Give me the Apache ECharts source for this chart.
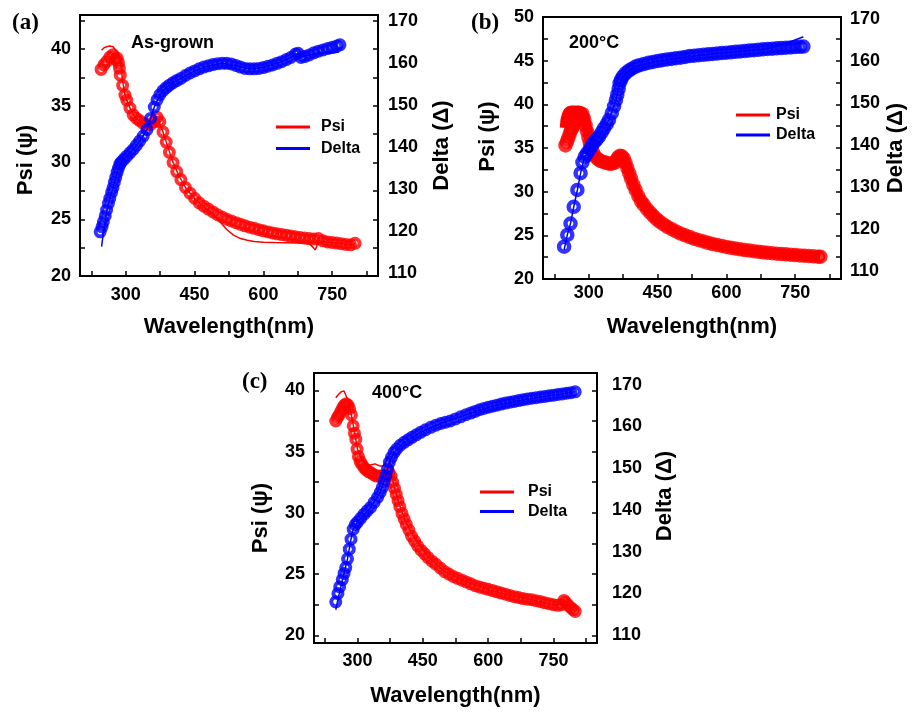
<!DOCTYPE html>
<html>
<head>
<meta charset="utf-8">
<script src="https://cdn.jsdelivr.net/npm/echarts@6/dist/echarts.min.js"></script>
<style>
  html, body { margin: 0; background: #fff; }
  #chart { width: 921px; height: 712px; }
</style>
</head>
<body>
<div id="chart"></div>
<script>
// ---- panel (a) as-grown: measured points [wavelength, value] and fits
const psiMeasA = [[246,38.2],[252,38.6],[258,38.9],[265,39.3],[272,39.5],[277,39.1],[281,39.2],[284,38.8],[286,38.3],[288,37.7],[293,36.8],[298,35.95],[302,35.5],[309,34.8],[316,34.2],[323,33.9],[330,33.7],[338,33.45],[346,33.3],[354,33.35],[362,33.6],[368,34.0],[374,33.6],[381,32.7],[388,31.8],[395,30.9],[403,30.0],[411,29.2],[420,28.5],[430,27.8],[440,27.3],[450,26.85],[460,26.45],[470,26.15],[480,25.9],[490,25.65],[500,25.4],[510,25.2],[520,25.0],[530,24.85],[540,24.7],[550,24.55],[560,24.42],[570,24.3],[580,24.2],[590,24.08],[600,23.98],[610,23.88],[620,23.8],[630,23.72],[640,23.65],[650,23.6],[660,23.52],[670,23.45],[680,23.4],[690,23.35],[700,23.3],[710,23.25],[720,23.3],[730,23.1],[740,23.0],[750,22.95],[760,22.9],[770,22.85],[780,22.78],[790,22.75],[800,22.88]];
const deltaMeasA = [[244,119.8],[248,121.0],[251,122.2],[255,123.6],[258,125.0],[262,126.6],[265,127.8],[269,129.2],[272,130.3],[275,131.6],[278,132.8],[281,134.0],[284,135.0],[287,135.9],[290,136.4],[296,137.1],[302,137.8],[309,138.6],[316,139.4],[323,140.4],[330,141.4],[338,142.6],[346,144.1],[354,146.8],[362,149.5],[368,151.2],[374,152.4],[381,153.4],[388,154.1],[395,154.7],[403,155.3],[411,155.8],[420,156.3],[430,157.0],[440,157.6],[450,158.1],[460,158.6],[470,159.0],[480,159.3],[490,159.6],[500,159.8],[510,159.9],[520,159.9],[530,159.75],[540,159.4],[550,159.0],[560,158.7],[570,158.6],[580,158.6],[590,158.7],[600,158.9],[610,159.2],[620,159.5],[630,159.9],[640,160.3],[650,160.8],[660,161.3],[670,162.1],[676,162.3],[682,161.3],[690,161.5],[700,161.9],[710,162.4],[720,162.8],[730,163.1],[740,163.4],[750,163.7],[760,164.0],[767,164.3]];
const psiFitA = [[247,39.9],[252,40.1],[258,40.2],[265,40.26],[272,40.2],[278,39.9],[284,39.6],[288,39.0],[293,37.2],[298,36.0],[302,35.5],[310,34.7],[320,34.0],[335,33.5],[350,33.3],[362,33.6],[370,33.8],[380,32.8],[390,31.6],[400,30.3],[415,28.9],[430,27.8],[450,26.8],[470,26.1],[490,25.5],[505,24.8],[520,24.1],[535,23.6],[550,23.3],[565,23.15],[580,23.05],[600,22.98],[625,22.95],[650,22.93],[675,22.9],[700,22.85],[709,22.5],[713,22.3],[718,22.8],[730,23.05],[750,22.95],[770,22.85],[790,22.75],[800,22.85]];
const deltaFitA = [[247,116.3],[252,120.3],[258,124.6],[265,127.8],[272,130.3],[278,132.8],[284,135.0],[290,136.4],[302,137.8],[316,139.4],[330,141.4],[346,144.1],[362,149.5],[374,152.4],[388,154.1],[403,155.3],[420,156.3],[450,158.1],[480,159.3],[510,159.9],[540,159.4],[570,158.6],[600,158.9],[630,159.9],[660,161.3],[676,162.2],[682,161.4],[700,161.9],[720,162.4],[745,162.3],[765,162.6]];

// ---- panel (b) 200°C
const psiMeasB = [[249,35.3],[252,35.7],[255,36.1],[258,36.6],[261,37.0],[264,37.3],[267,37.6],[270,37.9],[274,38.2],[278,38.6],[282,38.9],[286,38.9],[290,38.3],[293,37.6],[296,36.9],[299,36.2],[302,35.6],[305,35.0],[309,34.5],[314,34.0],[320,33.7],[326,33.5],[332,33.4],[338,33.3],[344,33.2],[350,33.2],[356,33.3],[360,33.6],[364,33.95],[368,34.1],[372,34.05],[376,33.8],[380,33.3],[384,32.7],[388,32.1],[392,31.5],[397,30.8],[402,30.2],[408,29.5],[414,28.9],[420,28.5],[427,28.0],[434,27.6],[441,27.2],[448,26.85],[455,26.55],[463,26.25],[472,25.95],[481,25.7],[490,25.45],[500,25.2],[510,25.0],[520,24.8],[530,24.6],[540,24.45],[550,24.3],[560,24.15],[570,24.0],[580,23.9],[590,23.78],[600,23.67],[610,23.57],[620,23.48],[630,23.4],[640,23.32],[650,23.25],[660,23.18],[670,23.12],[680,23.06],[690,23.0],[700,22.95],[710,22.9],[720,22.86],[730,22.82],[740,22.78],[750,22.74],[760,22.7],[770,22.67],[780,22.63],[790,22.6],[800,22.56],[805,22.55]];
const deltaMeasB = [[246,115.9],[253,118.7],[260,121.4],[267,125.4],[275,129.4],[282,133.4],[286,136.0],[291,137.3],[296,138.1],[302,139.1],[307,140.1],[312,140.8],[317,141.4],[322,142.1],[328,143.1],[333,144.1],[339,145.1],[344,146.1],[350,147.7],[355,149.3],[359,150.8],[362,152.1],[365,153.5],[367,154.8],[370,155.6],[374,156.4],[380,157.2],[387,157.8],[394,158.3],[402,158.8],[410,159.1],[420,159.4],[430,159.7],[440,159.9],[450,160.1],[460,160.3],[470,160.5],[480,160.6],[490,160.8],[500,160.9],[510,161.1],[520,161.3],[530,161.4],[540,161.5],[550,161.6],[560,161.7],[570,161.8],[580,161.9],[590,162.0],[600,162.1],[610,162.2],[620,162.3],[630,162.4],[640,162.5],[650,162.6],[660,162.7],[670,162.8],[680,162.9],[690,163.0],[700,163.05],[710,163.15],[720,163.2],[730,163.3],[740,163.35],[750,163.45],[760,163.5],[768,163.55]];
const psiFitB = [[247.5,37.3],[249,38.2],[252,38.8],[256,39.2],[262,39.3],[270,39.3],[278,39.3],[284,39.2],[290,38.6],[296,37.3],[302,35.9],[308,34.7],[314,34.0],[322,33.6],[335,33.35],[350,33.2],[358,33.4],[364,34.0],[370,34.1],[376,33.8],[382,33.0],[390,31.8],[400,30.4],[414,28.9],[430,27.8],[450,26.75],[475,25.9],[500,25.2],[530,24.6],[560,24.15],[600,23.67],[650,23.25],[700,22.95],[750,22.74],[805,22.55]];
const deltaFitB = [[246,115.1],[253,118.7],[260,121.4],[267,125.4],[275,129.4],[282,133.4],[290,137.0],[302,139.1],[322,142.1],[344,146.1],[359,150.8],[367,154.8],[380,157.2],[402,158.8],[440,159.9],[500,160.9],[560,161.7],[620,162.3],[680,162.9],[700,163.3],[720,164.0],[740,164.7],[768,165.9]];

// ---- panel (c) 400°C
const psiMeasC = [[250,37.5],[254,37.8],[258,38.0],[262,38.3],[266,38.6],[270,38.8],[274,38.9],[278,38.8],[282,38.5],[286,38.0],[290,37.1],[293,36.5],[296,36.0],[299,35.2],[302,34.6],[306,34.2],[310,33.95],[315,33.7],[320,33.5],[326,33.35],[332,33.25],[338,33.1],[344,33.0],[350,33.0],[356,33.0],[362,33.0],[367,33.1],[372,33.3],[377,33.0],[381,32.5],[385,32.0],[389,31.5],[393,31.0],[397,30.5],[402,29.95],[407,29.5],[412,29.05],[418,28.6],[424,28.1],[431,27.7],[438,27.3],[446,26.95],[454,26.65],[462,26.35],[471,26.05],[480,25.8],[490,25.5],[500,25.2],[510,25.0],[520,24.8],[530,24.65],[540,24.5],[550,24.35],[560,24.2],[570,24.05],[580,23.95],[590,23.85],[600,23.75],[610,23.65],[620,23.55],[630,23.45],[640,23.35],[650,23.25],[660,23.15],[670,23.08],[680,23.0],[690,22.95],[700,22.9],[710,22.82],[720,22.75],[730,22.65],[740,22.58],[750,22.5],[760,22.45],[768,22.5],[774,22.85],[778,22.7],[784,22.45],[790,22.25],[795,22.1],[800,21.95]];
const deltaMeasC = [[250,118.0],[255,120.0],[259,121.6],[265,123.3],[269,124.8],[273,126.2],[277,128.3],[281,130.6],[285,133.0],[290,135.4],[295,136.5],[300,137.1],[307,138.0],[315,139.0],[322,139.8],[330,140.6],[338,141.8],[346,143.0],[352,144.2],[357,145.4],[361,146.8],[365,148.2],[369,149.8],[373,151.4],[378,152.6],[384,153.8],[390,154.6],[398,155.5],[407,156.2],[416,156.8],[425,157.4],[435,158.0],[445,158.6],[456,159.2],[468,159.8],[480,160.3],[491,160.7],[502,161.0],[513,161.3],[525,161.8],[537,162.3],[549,162.8],[560,163.2],[570,163.6],[580,164.0],[590,164.3],[600,164.6],[610,164.85],[620,165.1],[630,165.35],[640,165.6],[650,165.8],[660,166.0],[670,166.2],[680,166.4],[690,166.6],[700,166.75],[710,166.9],[720,167.05],[730,167.2],[740,167.35],[750,167.5],[760,167.65],[770,167.8],[780,167.95],[790,168.1],[800,168.3]];
const psiFitC = [[250,39.4],[257,39.7],[263,39.9],[269,39.95],[273,39.8],[278,39.2],[283,38.5],[288,37.6],[293,36.6],[300,35.2],[310,34.3],[320,33.95],[330,33.9],[340,34.0],[350,33.85],[358,33.8],[365,34.2],[370,34.6],[374,34.4],[378,33.2],[385,32.0],[395,30.8],[410,29.3],[430,28.0],[460,26.5],[500,25.2],[550,24.35],[600,23.75],[650,23.25],[700,22.9],[750,22.5],[768,22.5],[775,22.85],[780,22.7],[790,22.25],[800,21.95]];
const deltaFitC = [[250,116.1],[255,118.6],[262,121.7],[269,124.8],[277,128.3],[285,133.0],[290,135.4],[300,137.1],[330,140.6],[352,144.2],[365,148.2],[373,151.4],[384,153.8],[407,156.2],[445,158.6],[491,160.7],[549,162.8],[600,164.6],[660,166.0],[720,167.05],[770,167.8],[800,168.3]];

// ---- axis ticks / labels
const xTicks = [225, 300, 375, 450, 525, 600, 675, 750, 825];
const xLabels = [300, 450, 600, 750];
const deltaLabels = [110, 120, 130, 140, 150, 160, 170];
const psiLabelsAC = [20, 25, 30, 35, 40];
const psiLabelsB = [20, 25, 30, 35, 40, 45, 50];
const psiTicksA = [20, 22.5, 25, 27.5, 30, 32.5, 35, 37.5, 40, 42.5];
const psiTicksB = [20, 22.5, 25, 27.5, 30, 32.5, 35, 37.5, 40, 42.5, 45, 47.5, 50];
const psiTicksC = [20, 22.5, 25, 27.5, 30, 32.5, 35, 37.5, 40];
const sampleText = ['As-grown', '200°C', '400°C'];
const panelTags = ['(a)', '(b)', '(c)'];

const RED = '#ff0000';
const BLUE = '#0000ff';
const FONT = '"Liberation Sans", Arial, sans-serif';

const panels = [
  { grid: { left: 80, top: 15, width: 298, height: 261 }, psiRange: [20, 43], deltaRange: [109.3, 171.4],
    psiM: psiMeasA, deltaM: deltaMeasA, psiF: psiFitA, deltaF: deltaFitA, psiFitW: 1.5,
    psiTicks: psiTicksA, psiLabels: psiLabelsAC, sym: 9, symW: 4,
    xGap: 40, xMargin: 10, psiGap: 43, psiPad: [0, 29, 0, 0], dGap: 53, dPad: [0, 0, 0, 0], dMargin: 10,
    legend: { left: 276, top: 119, itemGap: 5.5, txtPad: 6 },
    note: [131, 43], tag: [12, 23] },
  { grid: { left: 543, top: 17, width: 298, height: 262 }, psiRange: [20, 50], deltaRange: [108.2, 170.6],
    psiM: psiMeasB, deltaM: deltaMeasB, psiF: psiFitB, deltaF: deltaFitB, psiFitW: 10,
    psiTicks: psiTicksB, psiLabels: psiLabelsB, sym: 10, symW: 4.5,
    xGap: 37, xMargin: 5, psiGap: 44, psiPad: [0, 0, 0, 23], dGap: 44, dPad: [0, 0, 0, 0], dMargin: 9,
    legend: { left: 736, top: 107, itemGap: 4, txtPad: 1 },
    note: [569, 43], tag: [471, 23] },
  { grid: { left: 314, top: 373, width: 283, height: 270 }, psiRange: [19.37, 41.42], deltaRange: [108.14, 172.8],
    psiM: psiMeasC, deltaM: deltaMeasC, psiF: psiFitC, deltaF: deltaFitC, psiFitW: 1.5,
    psiTicks: psiTicksC, psiLabels: psiLabelsAC, sym: 9, symW: 4,
    xGap: 42, xMargin: 9, psiGap: 42, psiPad: [0, 20, 0, 0], dGap: 57, dPad: [0, 0, 0, 24], dMargin: 15,
    legend: { left: 480, top: 484, itemGap: 3.5, txtPad: 9 },
    note: [372, 393], tag: [242, 382] }
];

const labelStyle = { color: '#000', fontSize: 18, fontWeight: 'bold', fontFamily: FONT };
const nameStyle = { color: '#000', fontSize: 22, fontWeight: 'bold', fontFamily: FONT };
const blackLine = { color: '#000', width: 2 };

const option = { animation: false, grid: [], xAxis: [], yAxis: [], series: [], legend: [], graphic: [] };

panels.forEach((p, i) => {
  option.grid.push(Object.assign({ show: true, borderColor: '#000', borderWidth: 2, outerBoundsMode: 'none' }, p.grid));

  option.xAxis.push({
    gridIndex: i, type: 'value', min: 200, max: 850,
    splitLine: { show: false },
    axisLine: { show: true, onZero: false, lineStyle: blackLine },
    axisTick: { show: true, inside: true, length: 5, customValues: xTicks, lineStyle: { color: '#000', width: 1.5 } },
    axisLabel: Object.assign({ customValues: xLabels, margin: p.xMargin }, labelStyle),
    name: 'Wavelength(nm)', nameLocation: 'middle', nameGap: p.xGap, nameTextStyle: nameStyle
  });

  // left Psi axis
  option.yAxis.push({
    gridIndex: i, type: 'value', position: 'left', min: p.psiRange[0], max: p.psiRange[1],
    splitLine: { show: false },
    axisLine: { show: true, onZero: false, lineStyle: blackLine },
    axisTick: { show: true, inside: true, length: 5, customValues: p.psiTicks, lineStyle: { color: '#000', width: 1.5 } },
    axisLabel: Object.assign({ customValues: p.psiLabels, margin: 9 }, labelStyle),
    name: 'Psi (ψ)', nameLocation: 'middle', nameGap: p.psiGap,
    nameTextStyle: Object.assign({ padding: p.psiPad }, nameStyle)
  });
  // right frame side carries the Psi ticks
  option.yAxis.push({
    gridIndex: i, type: 'value', position: 'right', min: p.psiRange[0], max: p.psiRange[1],
    splitLine: { show: false },
    axisLine: { show: true, onZero: false, lineStyle: blackLine },
    axisTick: { show: true, inside: true, length: 5, customValues: p.psiTicks, lineStyle: { color: '#000', width: 1.5 } },
    axisLabel: { show: false }
  });
  // Delta labels on the right
  option.yAxis.push({
    gridIndex: i, type: 'value', position: 'right', min: p.deltaRange[0], max: p.deltaRange[1],
    splitLine: { show: false }, axisLine: { show: false }, axisTick: { show: false },
    axisLabel: Object.assign({ customValues: deltaLabels, margin: p.dMargin }, labelStyle),
    name: 'Delta (Δ)', nameLocation: 'middle', nameGap: p.dGap,
    nameTextStyle: Object.assign({ padding: p.dPad }, nameStyle)
  });

  const yi = i * 3;
  const dot = (color) => ({ color: 'rgba(0,0,0,0)', borderColor: color, borderWidth: p.symW });
  option.series.push(
    { type: 'scatter', name: 'psi-data', xAxisIndex: i, yAxisIndex: yi, data: p.psiM, symbol: 'circle', symbolSize: p.sym, itemStyle: dot(RED), z: 2, silent: true },
    { type: 'line', name: 'Psi', xAxisIndex: i, yAxisIndex: yi, data: p.psiF, showSymbol: false, lineStyle: { color: RED, width: p.psiFitW }, itemStyle: { color: RED }, z: 3, silent: true },
    { type: 'scatter', name: 'delta-data', xAxisIndex: i, yAxisIndex: yi + 2, data: p.deltaM, symbol: 'circle', symbolSize: p.sym, itemStyle: dot(BLUE), z: 4, silent: true },
    { type: 'line', name: 'Delta', xAxisIndex: i, yAxisIndex: yi + 2, data: p.deltaF, showSymbol: false, lineStyle: { color: BLUE, width: 1.5 }, itemStyle: { color: BLUE }, z: 5, silent: true }
  );

  option.legend.push({
    data: ['Psi', 'Delta'], orient: 'vertical', left: p.legend.left, top: p.legend.top, padding: 0,
    icon: 'rect', itemWidth: 34, itemHeight: 3, itemGap: p.legend.itemGap, selectedMode: false,
    textStyle: { color: '#000', fontSize: 16, fontWeight: 'bold', fontFamily: FONT, padding: [0, 0, 0, p.legend.txtPad] }
  });

  option.graphic.push(
    { type: 'text', x: p.note[0], y: p.note[1], style: { text: sampleText[i], font: 'bold 18px ' + FONT, fill: '#000', verticalAlign: 'middle' } },
    { type: 'text', x: p.tag[0], y: p.tag[1], style: { text: panelTags[i], font: 'bold 23px "Liberation Serif", "Times New Roman", serif', fill: '#000', verticalAlign: 'middle' } }
  );
});

const chart = echarts.init(document.getElementById('chart'), null, { renderer: 'canvas' });
chart.setOption(option);
</script>
</body>
</html>
